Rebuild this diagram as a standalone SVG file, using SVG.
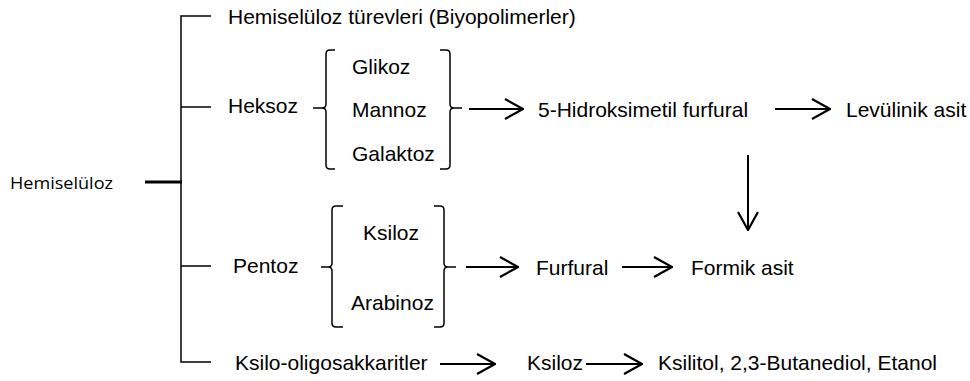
<svg xmlns="http://www.w3.org/2000/svg" width="970" height="381" viewBox="0 0 970 381">
<style>
text{font-family:"Liberation Sans",Arial,sans-serif;font-size:21px;fill:#000}
.root{font-family:"Open Sans","Noto Sans",sans-serif;font-size:16.5px}
.ln{stroke:#000;stroke-width:1.5;fill:none}
.ar{stroke:#000;stroke-width:2;fill:none}
</style>
<defs>
<marker id="ah" viewBox="0 0 20 22" refX="19" refY="11" markerWidth="20" markerHeight="22" markerUnits="userSpaceOnUse" orient="auto">
<path d="M1,1 L19,11 L1,21" fill="none" stroke="#000" stroke-width="2.2"/>
</marker>
</defs>
<g id="hemiseluloz"><text class="root" x="10" y="189" textLength="103" lengthAdjust="spacingAndGlyphs">Hemiselüloz</text></g>
<g id="turevler"><text x="228" y="24">Hemiselüloz türevleri (Biyopolimerler)</text></g>
<g id="heksoz"><text x="228" y="113">Heksoz</text></g>
<g id="heksoz-group">
<text x="352" y="74">Glikoz</text>
<text x="352" y="117">Mannoz</text>
<text x="352" y="161">Galaktoz</text>
</g>
<g id="hmf"><text x="538" y="117">5-Hidroksimetil furfural</text></g>
<g id="levulinik"><text x="846" y="117">Levülinik asit</text></g>
<g id="pentoz"><text x="233" y="273">Pentoz</text></g>
<g id="pentoz-group">
<text x="363" y="240">Ksiloz</text>
<text x="351" y="310">Arabinoz</text>
</g>
<g id="furfural"><text x="536" y="275">Furfural</text></g>
<g id="formik"><text x="691" y="275">Formik asit</text></g>
<g id="ksilo-oligo"><text x="235" y="370">Ksilo-oligosakkaritler</text></g>
<g id="ksiloz"><text x="527" y="370">Ksiloz</text></g>
<g id="ksilitol"><text x="658" y="370">Ksilitol, 2,3-Butanediol, Etanol</text></g>
<g id="connectors">
<line x1="145" y1="182" x2="182" y2="182" stroke="#000" stroke-width="3"/>
<path class="ln" d="M211,16 H181 V362 H211"/>
<path class="ln" d="M181,107 H211 M181,266 H211"/>
<path class="ln" d="M335,50 H330 Q326,50 326,54 V104 Q326,108 322,108 H313 M322,108 Q326,108 326,112 V165 Q326,169 330,169 H335"/>
<path class="ln" d="M440,50 H446 Q450,50 450,54 V104 Q450,108 454,108 H462 M454,108 Q450,108 450,112 V165 Q450,169 446,169 H440"/>
<path class="ln" d="M343,206 H336 Q332,206 332,210 V263 Q332,267 328,267 H321 M328,267 Q332,267 332,271 V323 Q332,327 336,327 H343"/>
<path class="ln" d="M434,206 H440 Q444,206 444,210 V263 Q444,267 448,267 H456 M448,267 Q444,267 444,271 V323 Q444,327 440,327 H434"/>
<line class="ar" x1="469" y1="109" x2="523" y2="109" marker-end="url(#ah)"/>
<line class="ar" x1="775" y1="109" x2="830" y2="109" marker-end="url(#ah)"/>
<line class="ar" x1="748" y1="155" x2="748" y2="230" marker-end="url(#ah)"/>
<line class="ar" x1="466" y1="267" x2="518" y2="267" marker-end="url(#ah)"/>
<line class="ar" x1="622" y1="267" x2="672" y2="267" marker-end="url(#ah)"/>
<line class="ar" x1="440" y1="364" x2="495" y2="364" marker-end="url(#ah)"/>
<line class="ar" x1="586" y1="364" x2="642" y2="364" marker-end="url(#ah)"/>
</g>
</svg>
